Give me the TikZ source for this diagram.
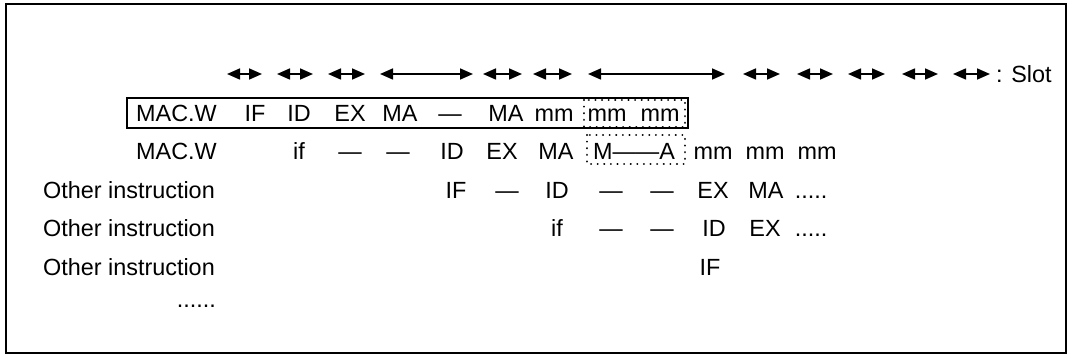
\documentclass[tikz,border=0pt]{standalone}
\usepackage{fontspec}
\setmainfont{Liberation Sans}
\usetikzlibrary{arrows.meta}
\begin{document}
\begin{tikzpicture}[x=1pt,y=-1pt,
  txt/.style={inner sep=0pt, anchor=base, font=\fontsize{23.4}{28}\selectfont},
  lbl/.style={txt, anchor=base east},
  slotarrow/.style={{Triangle[length=13pt,width=11pt]}-{Triangle[length=13pt,width=11pt]}, line width=1.6pt},
  frame/.style={line width=2pt},
  solidbox/.style={line width=2pt},
  dotbox/.style={line width=2.2pt, line cap=round, dash pattern=on 0.01pt off 6.6pt}]
\useasboundingbox (0,0) rectangle (1074,358);
\draw[frame] (6,4) rectangle (1066,353);
% slot arrows
\foreach \a/\b [count=\i] in {227/262,277/313,328/365,380/473,483/522,533/572,588/725,743/780,797/833,848/885,902/938,953/990}{
  \coordinate (s\i) at (\a,74);
  \coordinate (e\i) at (\b,74);
  \draw[slotarrow] (s\i) -- (e\i);
}
\node[txt, anchor=base west] (slot) at (996,82.5) {: Slot};
% boxes
\draw[solidbox] (127,98) rectangle (688,128);
\draw[dotbox] (584,100) rectangle (685,127);
\draw[dotbox] (587,135) rectangle (685,164);
% row 1
\def\ya{121.5}
\node[lbl] (r1l) at (217,\ya) {MAC.W};
\node[txt] (r1a) at (255,\ya) {IF};
\node[txt] (r1b) at (299,\ya) {ID};
\node[txt] (r1c) at (350,\ya) {EX};
\node[txt] (r1d) at (400,\ya) {MA};
\node[txt] (r1e) at (450,\ya) {---};
\node[txt] (r1f) at (506,\ya) {MA};
\node[txt] (r1g) at (554,\ya) {mm};
\node[txt] (r1h) at (607,\ya) {mm};
\node[txt] (r1i) at (660,\ya) {mm};
% row 2
\def\yb{160}
\node[lbl] (r2l) at (217,\yb) {MAC.W};
\node[txt] (r2a) at (299,\yb) {if};
\node[txt] (r2b) at (350,\yb) {---};
\node[txt] (r2c) at (398,\yb) {---};
\node[txt] (r2d) at (452,\yb) {ID};
\node[txt] (r2e) at (502,\yb) {EX};
\node[txt] (r2f) at (556,\yb) {MA};
\node[txt] (r2g) at (634,\yb) {M------A};
\node[txt] (r2h) at (713,\yb) {mm};
\node[txt] (r2i) at (765,\yb) {mm};
\node[txt] (r2j) at (817,\yb) {mm};
% row 3
\def\yc{198.5}
\node[lbl] (r3l) at (215,\yc) {Other instruction};
\node[txt] (r3a) at (456,\yc) {IF};
\node[txt] (r3b) at (507,\yc) {---};
\node[txt] (r3c) at (557,\yc) {ID};
\node[txt] (r3d) at (611,\yc) {---};
\node[txt] (r3e) at (662,\yc) {---};
\node[txt] (r3f) at (713,\yc) {EX};
\node[txt] (r3g) at (766,\yc) {MA};
\node[txt] (r3h) at (811,\yc) {.....};
% row 4
\def\yd{237}
\node[lbl] (r4l) at (215,\yd) {Other instruction};
\node[txt] (r4a) at (557,\yd) {if};
\node[txt] (r4b) at (611,\yd) {---};
\node[txt] (r4c) at (662,\yd) {---};
\node[txt] (r4d) at (714,\yd) {ID};
\node[txt] (r4e) at (765,\yd) {EX};
\node[txt] (r4f) at (811,\yd) {.....};
% row 5
\def\ye{275.5}
\node[lbl] (r5l) at (215,\ye) {Other instruction};
\node[txt] (r5a) at (710,\ye) {IF};
% dots
\node[lbl] (r6l) at (216,307) {......};
\end{tikzpicture}
\end{document}
